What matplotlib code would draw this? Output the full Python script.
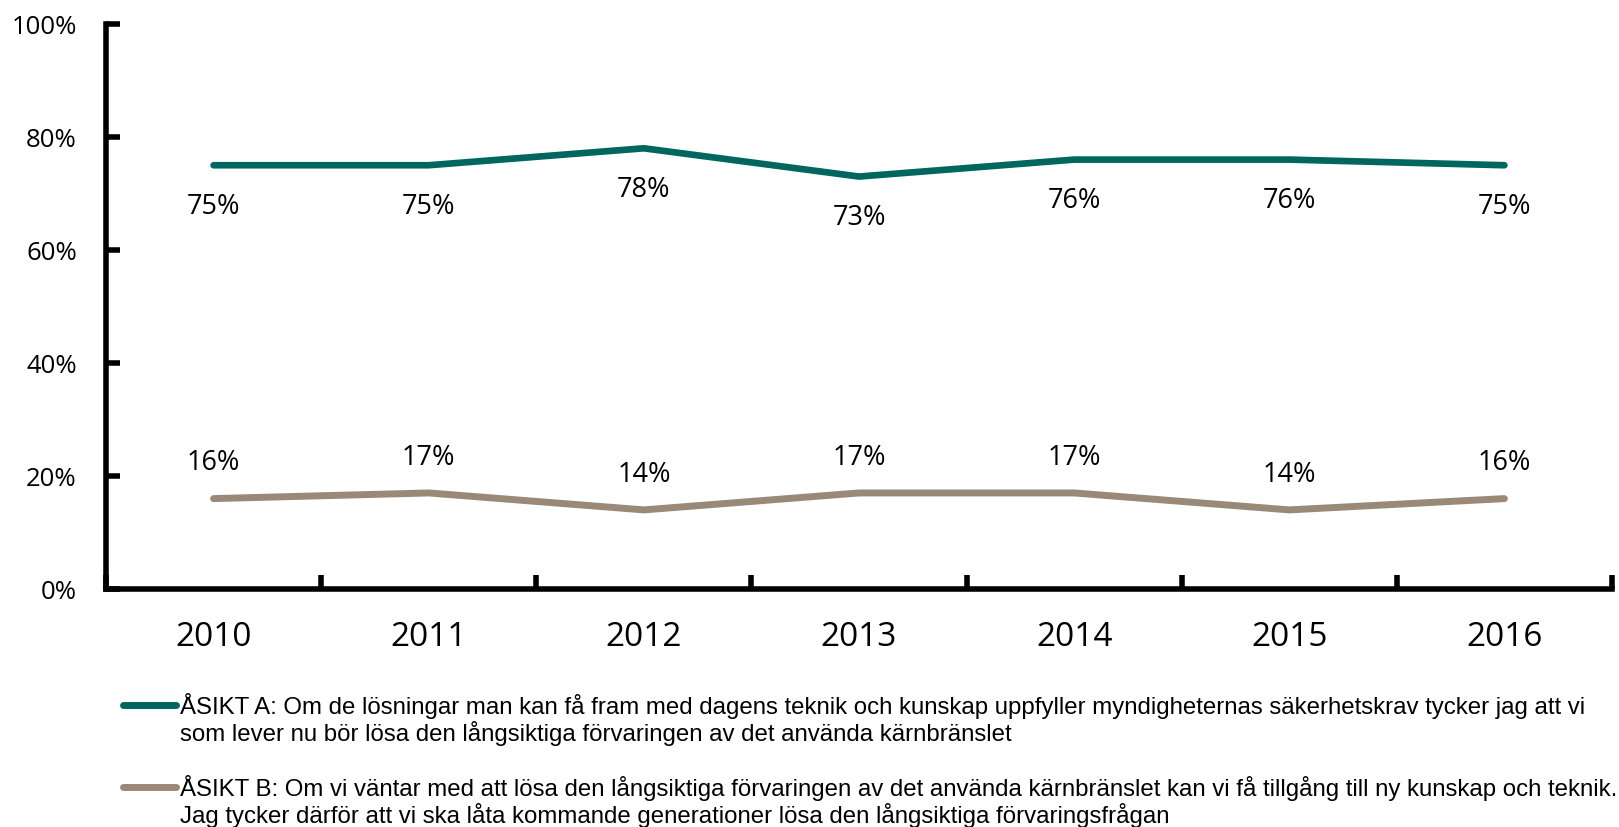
import matplotlib
matplotlib.use("Agg")
import matplotlib.pyplot as plt
from matplotlib.lines import Line2D
import numpy as np

years = ["2010", "2011", "2012", "2013", "2014", "2015", "2016"]
asikt_a = [75, 75, 78, 73, 76, 76, 75]
asikt_b = [16, 17, 14, 17, 17, 14, 16]
y_ticks = [0, 20, 40, 60, 80, 100]

label_a = ("ÅSIKT A: Om de lösningar man kan få fram med dagens teknik och kunskap uppfyller "
           "myndigheternas säkerhetskrav tycker jag att vi\nsom lever nu bör lösa den "
           "långsiktiga förvaringen av det använda kärnbränslet")
label_b = ("ÅSIKT B: Om vi väntar med att lösa den långsiktiga förvaringen av det använda "
           "kärnbränslet kan vi få tillgång till ny kunskap och teknik.\nJag tycker därför "
           "att vi ska låta kommande generationer lösa den långsiktiga förvaringsfrågan")

teal = "#00665F"
taupe = "#9A8878"

W, H = 1619, 828
fig = plt.figure(figsize=(W / 100, H / 100), dpi=100)
ax = fig.add_axes([106 / W, 1 - 590 / H, (1612 - 106) / W, (590 - 25) / H])

x = np.arange(len(years))
ax.plot(x, asikt_a, color=teal, lw=4.8, solid_capstyle="round", solid_joinstyle="round")
ax.plot(x, asikt_b, color=taupe, lw=5.0, solid_capstyle="round", solid_joinstyle="round")

lab_font = dict(family="Open Sans", fontsize=19.5, color="black", ha="center", va="center")
for xi, v in zip(x, asikt_a):
    ax.annotate(f"{v}%", (xi, v), xytext=(0, -29), textcoords="offset points", **lab_font)
for xi, v in zip(x, asikt_b):
    ax.annotate(f"{v}%", (xi, v), xytext=(0, 26), textcoords="offset points", **lab_font)

ax.set_xlim(-0.5, len(years) - 0.5)
ax.set_ylim(0, 100)

for s in ["top", "right"]:
    ax.spines[s].set_visible(False)
for s in ["left", "bottom"]:
    ax.spines[s].set_linewidth(4)
    ax.spines[s].set_color("black")

ax.set_yticks(y_ticks)
ax.set_yticklabels([f"{t}%" for t in y_ticks], family="Open Sans", fontsize=18.5)
ax.tick_params(axis="y", direction="in", length=10, width=4, pad=21)

# category boundaries get the ticks, year labels sit between them
ax.set_xticks(np.arange(len(years) + 1) - 0.5)
ax.set_xticklabels([])
ax.set_xticks(x, minor=True)
ax.set_xticklabels(years, minor=True, family="Open Sans", fontsize=24)
ax.tick_params(axis="x", which="major", direction="in", length=10, width=4)
ax.tick_params(axis="x", which="minor", length=0, pad=22)

# legend drawn by hand so the sample line aligns with the first text row
leg_font = dict(family="Liberation Sans", fontsize=17.3, va="center", ha="left",
                linespacing=1.1)
for color, lbl, y1 in [(teal, label_a, 706), (taupe, label_b, 788)]:
    fig.add_artist(Line2D([123 / W, 176 / W], [1 - y1 / H, 1 - y1 / H], color=color,
                          lw=5, solid_capstyle="round", transform=fig.transFigure))
    fig.text(180 / W, 1 - (y1 + 14) / H, lbl, **leg_font)

fig.savefig("out.png", dpi=100)
